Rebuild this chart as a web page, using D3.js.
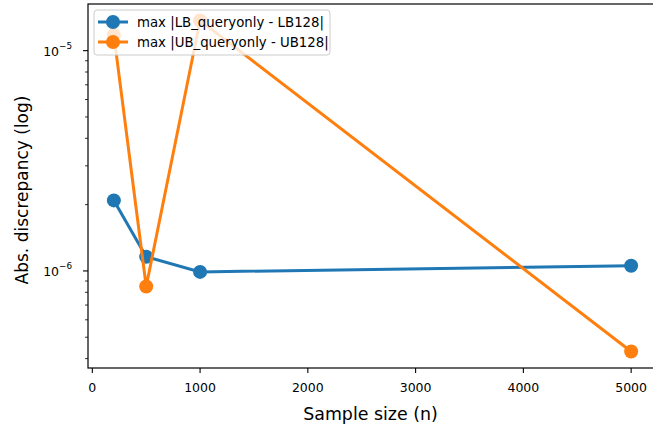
<!DOCTYPE html>
<html>
<head>
<meta charset="utf-8">
<script src="https://cdn.jsdelivr.net/npm/d3@7"></script>
<style>
body { margin: 0; background: #fff; }
svg { font-family: "DejaVu Sans", sans-serif; }
</style>
</head>
<body>
<svg id="chart" width="653" height="428"></svg>
<script>
// values
const sampleSizes = [200, 500, 1000, 5000];
const lbDiff = [2.09e-6, 1.16e-6, 0.99e-6, 1.055e-6];
const ubDiff = [1.18e-5, 0.85e-6, 1.37e-5, 4.31e-7];
const seriesNames = ["max |LB_queryonly - LB128|", "max |UB_queryonly - UB128|"];
const seriesColors = ["#1f77b4", "#ff7f0e"];
const xTicks = [0, 1000, 2000, 3000, 4000, 5000];
const yMajor = [-6, -5];

const svg = d3.select("#chart");
const plotL = 88, plotT = 4, plotR = 657, plotB = 368;

// matplotlib-ish 5% margins
const xmin = d3.min(sampleSizes), xmax = d3.max(sampleSizes);
const xpad = (xmax - xmin) * 0.05;
const x = d3.scaleLinear().domain([xmin - xpad, xmax + xpad]).range([plotL, plotR]);

const allY = lbDiff.concat(ubDiff).map(Math.log10);
const lmin = d3.min(allY), lmax = d3.max(allY);
const lpad = (lmax - lmin) * 0.05;
const y = d3.scaleLog().domain([Math.pow(10, lmin - lpad), Math.pow(10, lmax + lpad)]).range([plotB, plotT]);

// x axis
const gx = svg.append("g");
xTicks.forEach(t => {
    gx.append("line").attr("x1", x(t)).attr("x2", x(t))
        .attr("y1", plotB).attr("y2", plotB + 5)
        .attr("stroke", "#000").attr("stroke-width", 1.1);
    gx.append("text").attr("x", x(t)).attr("y", plotB + 24)
        .attr("text-anchor", "middle").attr("font-size", "12.5px").text(t);
});
svg.append("text").attr("x", (plotL + plotR) / 2 - 2).attr("y", 420)
    .attr("text-anchor", "middle").attr("font-size", "17.4px").text("Sample size (n)");

// y axis: minor + major ticks
const gy = svg.append("g");
const [d0, d1] = y.domain();
for (let e = -8; e <= -4; e++) {
    for (let m = 1; m <= 9; m++) {
        const v = m * Math.pow(10, e);
        if (v < d0 || v > d1) continue;
        const major = m === 1;
        gy.append("line").attr("x1", plotL).attr("x2", plotL - (major ? 5 : 3))
            .attr("y1", y(v)).attr("y2", y(v))
            .attr("stroke", "#000").attr("stroke-width", major ? 1.1 : 0.8);
    }
}
yMajor.forEach(e => {
    const t = gy.append("text").attr("x", plotL - 16).attr("y", y(Math.pow(10, e)) + 5)
        .attr("text-anchor", "end").attr("font-size", "12.5px");
    t.append("tspan").text("10");
    t.append("tspan").attr("dy", -6.5).attr("font-size", "8.8px").text("\u2212" + (-e));
});
svg.append("text").attr("transform", `translate(28,${(plotT + plotB) / 2 + 4}) rotate(-90)`)
    .attr("text-anchor", "middle").attr("font-size", "17px").text("Abs. discrepancy (log)");

// series
const series = [lbDiff, ubDiff];
const line = d3.line().x((d, i) => x(sampleSizes[i])).y(d => y(d));
series.forEach((vals, k) => {
    svg.append("path").datum(vals).attr("d", line)
        .attr("fill", "none").attr("stroke", seriesColors[k]).attr("stroke-width", 3);
    svg.selectAll(null).data(vals).join("circle")
        .attr("cx", (d, i) => x(sampleSizes[i])).attr("cy", d => y(d))
        .attr("r", 7).attr("fill", seriesColors[k]);
});

// spines
svg.append("rect").attr("x", plotL).attr("y", plotT)
    .attr("width", plotR - plotL).attr("height", plotB - plotT)
    .attr("fill", "none").attr("stroke", "#000").attr("stroke-width", 1.2);

// legend
const lg = svg.append("g").attr("transform", "translate(94,10)");
lg.append("rect").attr("width", 236).attr("height", 45).attr("rx", 3)
    .attr("fill", "#fff").attr("fill-opacity", 0.8)
    .attr("stroke", "#cccccc").attr("stroke-width", 1);
seriesNames.forEach((name, k) => {
    const yy = 12 + k * 20;
    lg.append("line").attr("x1", 4).attr("x2", 34).attr("y1", yy).attr("y2", yy)
        .attr("stroke", seriesColors[k]).attr("stroke-width", 3);
    lg.append("circle").attr("cx", 19).attr("cy", yy).attr("r", 7).attr("fill", seriesColors[k]);
    lg.append("text").attr("x", 43).attr("y", yy + 5).attr("font-size", "13.3px").text(name);
});
</script>
</body>
</html>
